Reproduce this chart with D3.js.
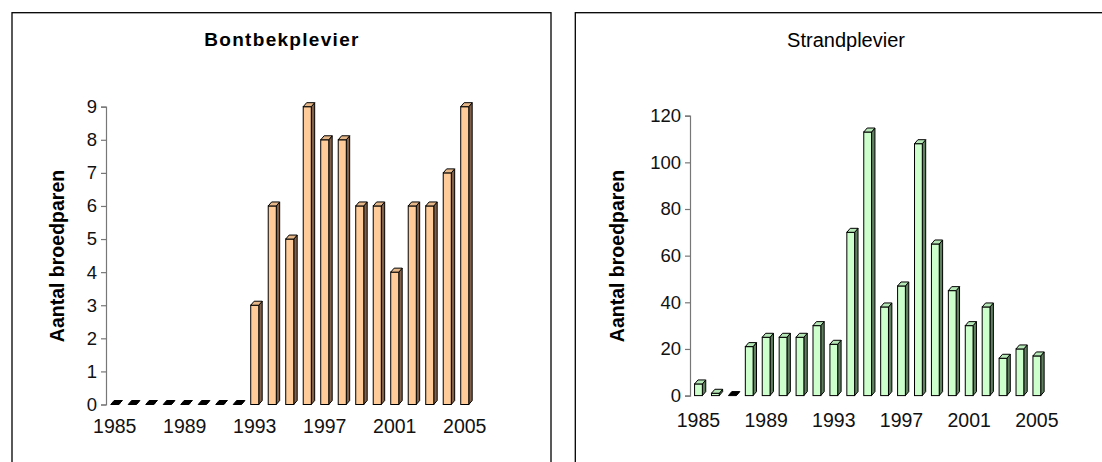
<!DOCTYPE html>
<html>
<head>
<meta charset="utf-8">
<script src="https://cdn.jsdelivr.net/npm/d3@7"></script>
<style>
  html, body { margin: 0; padding: 0; background: #fff; }
  svg { display: block; font-family: "Liberation Sans", Arial, Helvetica, sans-serif; }
</style>
</head>
<body>
<svg id="chart" width="1102" height="462"></svg>
<script>
// Breeding pairs per year, 1985–2005
const years = [1985, 1986, 1987, 1988, 1989, 1990, 1991, 1992, 1993, 1994, 1995,
               1996, 1997, 1998, 1999, 2000, 2001, 2002, 2003, 2004, 2005];
const bontbekValues = [0, 0, 0, 0, 0, 0, 0, 0, 3, 6, 5, 9, 8, 8, 6, 6, 4, 6, 6, 7, 9];
const strandValues  = [5, 1, 0, 21, 25, 25, 25, 30, 22, 70, 113, 38, 47, 108, 65, 45, 30, 38, 16, 20, 17];
const yearTickLabels = [1985, 1989, 1993, 1997, 2001, 2005];
const bontbekTicks = [0, 1, 2, 3, 4, 5, 6, 7, 8, 9];
const strandTicks  = [0, 20, 40, 60, 80, 100, 120];

const svg = d3.select("#chart");
const FONT = '"Liberation Sans", Arial, Helvetica, sans-serif';

function drawPanel(cfg) {
  const g = svg.append("g");

  // panel frame
  g.append("rect")
    .attr("x", cfg.frame.x).attr("y", cfg.frame.y)
    .attr("width", cfg.frame.w).attr("height", cfg.frame.h)
    .attr("fill", "none").attr("stroke", "#000").attr("stroke-width", 1.3);

  // title
  g.append("text")
    .attr("x", cfg.titleX).attr("y", cfg.titleY)
    .attr("text-anchor", "middle")
    .attr("font-size", cfg.titleSize)
    .attr("font-weight", cfg.titleWeight)
    .attr("letter-spacing", cfg.titleSpacing)
    .attr("fill", "#000")
    .text(cfg.title);

  const x = d3.scaleBand().domain(years).range(cfg.xRange).padding(0);
  const y = d3.scaleLinear().domain(cfg.yDomain).range(cfg.yRange);

  // y axis
  const yAxis = d3.axisLeft(y).tickValues(cfg.ticks).tickSize(5).tickPadding(4).tickFormat(d3.format("d"));
  const ya = g.append("g").attr("transform", `translate(${cfg.xRange[0]},0)`).call(yAxis);
  ya.select(".domain").attr("stroke", "#777").attr("stroke-width", 1.2);
  ya.selectAll(".tick line").attr("stroke", "#777").attr("stroke-width", 1.2);
  ya.selectAll(".tick text")
    .attr("font-family", FONT).attr("font-size", cfg.tickSize).attr("fill", "#111");

  // year labels (no axis line)
  const xa = d3.axisBottom(x).tickValues(yearTickLabels).tickSize(0).tickPadding(0);
  const xg = g.append("g").attr("transform", `translate(0,${cfg.xLabelY})`).call(xa);
  xg.select(".domain").remove();
  xg.selectAll(".tick text")
    .attr("font-family", FONT).attr("font-size", cfg.xLabelSize).attr("fill", "#111")
    .attr("dy", "0");

  // y axis title
  g.append("text")
    .attr("transform", `translate(${cfg.yTitleX},${cfg.yTitleY}) rotate(-90)`)
    .attr("text-anchor", "middle")
    .attr("font-size", cfg.yTitleSize)
    .attr("font-weight", "bold")
    .attr("fill", "#000")
    .text("Aantal broedparen");

  // 3D columns
  const dx = 3.4, dy = 4;
  const frontW = x.bandwidth() * 0.46;
  const data = years.map((yr, i) => ({ year: yr, value: cfg.values[i] }));
  const bars = g.append("g").selectAll("g").data(data).join("g");

  bars.each(function (d) {
    const b = d3.select(this);
    const x0 = x(d.year) + (x.bandwidth() - frontW) / 2;
    const x1 = x0 + frontW;
    const yt = y(d.value), yb = y(0);
    const line = d3.line();
    // side face
    b.append("path")
      .attr("d", line([[x1, yb], [x1 + dx, yb - dy], [x1 + dx, yt - dy], [x1, yt]]) + "Z")
      .attr("fill", cfg.sideColor).attr("stroke", "#000").attr("stroke-width", 1).attr("stroke-linejoin", "round");
    // front face
    if (d.value > 0) {
      b.append("rect")
        .attr("x", x0).attr("y", yt).attr("width", frontW).attr("height", yb - yt)
        .attr("fill", cfg.frontColor).attr("stroke", "#000").attr("stroke-width", 1);
    }
    // top face
    b.append("path")
      .attr("d", line([[x0, yt], [x0 + dx, yt - dy], [x1 + dx, yt - dy], [x1, yt]]) + "Z")
      .attr("fill", d.value > 0 ? cfg.topColor : "#000").attr("stroke", "#000").attr("stroke-width", 1).attr("stroke-linejoin", "round");
  });
}

drawPanel({
  frame: { x: 12, y: 12.7, w: 539, h: 470 },
  title: "Bontbekplevier", titleX: 282, titleY: 45.5, titleSize: 19, titleWeight: "bold", titleSpacing: 1.3,
  values: bontbekValues, ticks: bontbekTicks,
  xRange: [106, 473.5], yDomain: [0, 9], yRange: [404.5, 106.7],
  tickSize: 18.5, xLabelSize: 19.5, xLabelY: 433,
  yTitleX: 63.5, yTitleY: 256, yTitleSize: 19.5,
  frontColor: "#ffcc99", sideColor: "#806048", topColor: "#e6b788"
});

drawPanel({
  frame: { x: 575.3, y: 12.7, w: 560, h: 470 },
  title: "Strandplevier", titleX: 846, titleY: 47, titleSize: 20, titleWeight: "normal", titleSpacing: 0,
  values: strandValues, ticks: strandTicks,
  xRange: [690, 1045.3], yDomain: [0, 120], yRange: [395.6, 115.7],
  tickSize: 18.5, xLabelSize: 19.5, xLabelY: 427,
  yTitleX: 623.5, yTitleY: 256, yTitleSize: 19.5,
  frontColor: "#ccffcc", sideColor: "#5f7f5f", topColor: "#b5e6b5"
});
</script>
</body>
</html>
